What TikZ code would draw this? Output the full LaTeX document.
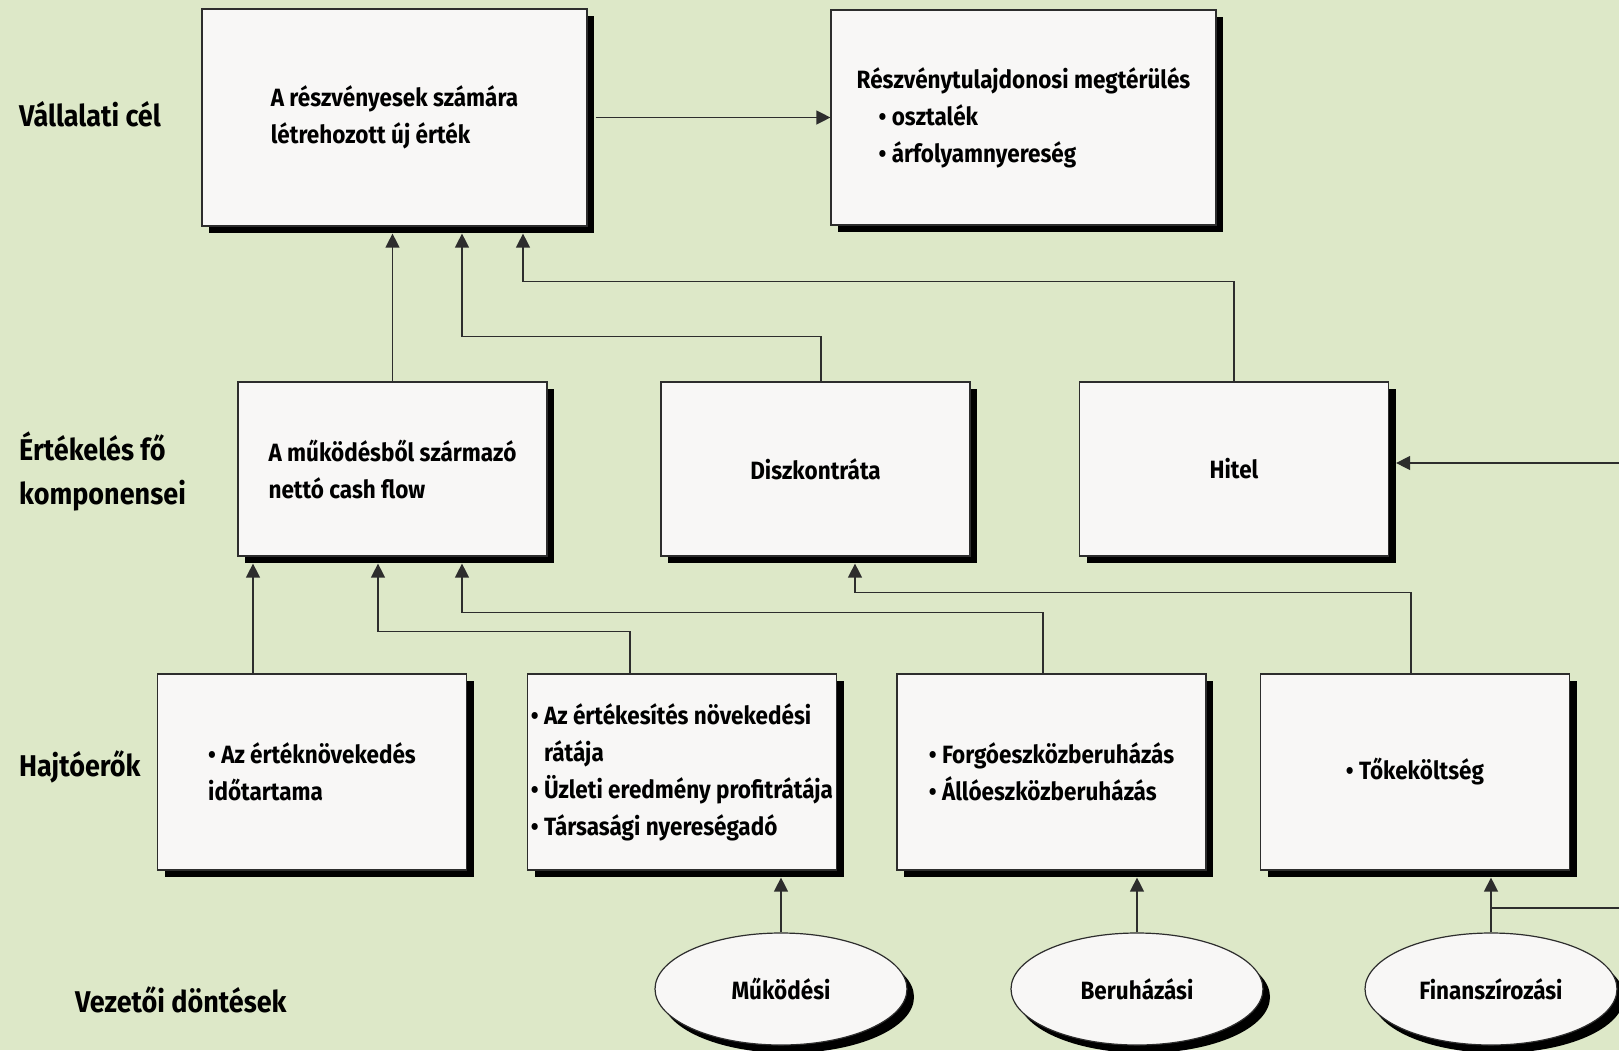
\documentclass[tikz,border=0pt]{standalone}
\usepackage{fontspec}
\setmainfont{Fira Sans}[FakeStretch=0.9]
\usepackage{tikz}
\usetikzlibrary{arrows.meta,shapes.geometric,shadows,calc}
\definecolor{paper}{RGB}{221,232,200}
\definecolor{boxfill}{RGB}{248,247,246}
\definecolor{wire}{RGB}{45,45,45}
\tikzstyle{Box}=[shape=rectangle, draw=wire, line width=1.2pt, fill=boxfill, minimum width=309pt, inner sep=0pt, align=left, font=\fontsize{25}{37}\selectfont\bfseries, drop shadow={shadow xshift=7pt, shadow yshift=-7pt, fill=black, opacity=1}]
\tikzstyle{Decision}=[shape=ellipse, draw=wire, line width=1.2pt, fill=boxfill, minimum width=252pt, minimum height=112pt, inner sep=0pt, font=\fontsize{25}{37}\selectfont\bfseries, drop shadow={shadow xshift=7pt, shadow yshift=-8pt, fill=black, opacity=1}]
\tikzstyle{Level}=[anchor=west, align=left, inner sep=0pt, font=\fontsize{30}{44}\selectfont\bfseries]
\tikzstyle{arrow}=[draw=wire, line width=1.3pt, -{Triangle[width=14pt,length=14pt]}]
\pgfdeclarelayer{nodelayer}
\pgfdeclarelayer{edgelayer}
\pgfsetlayers{main, nodelayer, edgelayer}
\begin{document}
\begin{tikzpicture}[x=1pt, y=-1pt]
	\fill [paper] (0,0) rectangle (1619,1050);
	\useasboundingbox (0,0) rectangle (1619,1050);
	\begin{pgfonlayer}{nodelayer}
		% levels on the left
		\node [style=Level] (lgoal) at (19, 114) {Vállalati cél};
		\node [style=Level] (lvalue) at (19, 471) {Értékelés fő\\komponensei};
		\node [style=Level] (ldrivers) at (19, 767) {Hajtóerők};
		\node [style=Level] (ldecisions) at (75, 1000) {Vezetői döntések};
		% top row
		\node [style=Box, minimum width=385pt, minimum height=217pt] (goal) at (394.5, 117.5) {A részvényesek számára\\létrehozott új érték};
		\node [style=Box, minimum width=385pt, minimum height=215pt] (payout) at (1023.5, 117.5) {Részvénytulajdonosi megtérülés\\\hspace*{22pt}• osztalék\\\hspace*{22pt}• árfolyamnyereség};
		% value components
		\node [style=Box, minimum height=174pt] (cashflow) at (392.5, 469) {A működésből származó\\nettó cash flow};
		\node [style=Box, minimum height=174pt] (discount) at (815.5, 469) {Diszkontráta};
		\node [style=Box, minimum height=174pt] (debt) at (1234, 469) {Hitel};
		% drivers
		\node [style=Box, minimum height=196pt] (duration) at (312, 772) {• Az értéknövekedés\\időtartama};
		\node [style=Box, minimum height=196pt] (sales) at (682, 772) {• Az értékesítés növekedési\\\hphantom{• }rátája\\• Üzleti eredmény profitrátája\\• Társasági nyereségadó};
		\node [style=Box, minimum height=196pt] (assets) at (1051.5, 772) {• Forgóeszközberuházás\\• Állóeszközberuházás};
		\node [style=Box, minimum height=196pt] (capital) at (1415, 772) {• Tőkeköltség};
		% decisions
		\node [style=Decision] (operating) at (781, 989) {Működési};
		\node [style=Decision] (investing) at (1137, 989) {Beruházási};
		\node [style=Decision] (financing) at (1491, 989) {Finanszírozási};
		\coordinate (offpage) at (1660, 908);
	\end{pgfonlayer}
	\begin{pgfonlayer}{edgelayer}
		\draw [style=arrow] ([xshift=8pt]goal.east) to (payout.west);
		\draw [style=arrow] (cashflow.north) -- ($(cashflow.north |- goal.south)+(0,7)$);
		\draw [style=arrow] ([xshift=5.5pt]discount.north) -- ++(0,-45) -| ($(goal.south)+(67.5,7)$);
		\draw [style=arrow] (debt.north) -- ++(0,-100) -| ($(goal.south)+(128.5,7)$);
		\draw [style=arrow] ([xshift=-59pt]duration.north) -- ($(duration.north |- cashflow.south)+(-59,7)$);
		\draw [style=arrow] ([xshift=-52pt]sales.north) -- ++(0,-42) -| ($(cashflow.south)+(-14.5,7)$);
		\draw [style=arrow] ([xshift=-8.5pt]assets.north) -- ++(0,-61) -| ($(cashflow.south)+(69.5,7)$);
		\draw [style=arrow] ([xshift=-4pt]capital.north) -- ++(0,-81) -| ($(discount.south)+(39.5,7)$);
		\draw [style=arrow] (operating.north) -- ($(operating.north |- sales.south)+(0,7)$);
		\draw [style=arrow] (investing.north) -- ($(investing.north |- assets.south)+(0,7)$);
		\draw [style=arrow] (financing.north) -- ($(financing.north |- capital.south)+(0,7)$);
		\draw [style=arrow] (financing.north) |- (offpage) |- ($(debt.east)+(7,-6)$);
	\end{pgfonlayer}
\end{tikzpicture}
\end{document}
